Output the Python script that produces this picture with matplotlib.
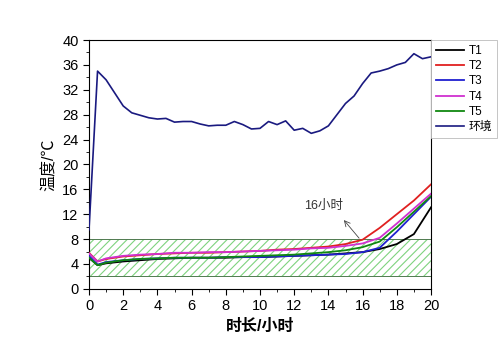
import numpy as np
import matplotlib
matplotlib.use("Agg")
import matplotlib.pyplot as plt
from matplotlib.ticker import MultipleLocator

plt.rcParams['font.family'] = ['Liberation Sans', 'Noto Sans CJK SC']
plt.rcParams['hatch.linewidth'] = 0.8

# time (h) for the sensor curves
hours = [0, 0.5, 1, 2, 3, 4, 5, 6, 7, 8, 9, 10, 11, 12, 13, 14, 15, 16, 17, 18, 19, 20]
t1 = [5.0, 3.8, 4.1, 4.4, 4.6, 4.8, 4.9, 5.0, 5.0, 5.0, 5.1, 5.1, 5.2, 5.3, 5.4, 5.5, 5.7, 5.9, 6.4, 7.2, 8.8, 13.1]
t2 = [5.8, 4.4, 4.8, 5.2, 5.4, 5.6, 5.7, 5.8, 5.8, 5.9, 6.0, 6.1, 6.3, 6.4, 6.6, 6.8, 7.2, 7.9, 9.8, 12.0, 14.2, 16.8]
t3 = [5.3, 3.9, 4.3, 4.6, 4.8, 4.9, 5.0, 5.0, 5.0, 5.1, 5.1, 5.1, 5.2, 5.3, 5.4, 5.5, 5.6, 5.9, 6.6, 9.2, 12.0, 14.8]
t4 = [5.7, 4.4, 4.9, 5.3, 5.5, 5.6, 5.8, 5.8, 5.9, 5.9, 6.0, 6.1, 6.2, 6.3, 6.5, 6.6, 6.9, 7.3, 8.2, 10.5, 12.9, 15.3]
t5 = [5.0, 3.8, 4.2, 4.6, 4.8, 4.9, 5.0, 5.0, 5.0, 5.1, 5.2, 5.3, 5.4, 5.5, 5.7, 5.9, 6.2, 6.7, 7.6, 9.9, 12.4, 14.9]

# ambient temperature, every half hour
env_hours = [i * 0.5 for i in range(41)]
env = [9.5, 35.0, 33.6, 31.5, 29.4, 28.3, 27.9, 27.5, 27.3, 27.4, 26.8, 26.9, 26.9, 26.5, 26.2, 26.3,
       26.3, 26.9, 26.4, 25.7, 25.8, 26.9, 26.4, 27.0, 25.5, 25.8, 25.0, 25.4, 26.2, 28.0,
       29.8, 31.0, 33.0, 34.7, 35.0, 35.4, 36.0, 36.4, 37.8, 37.0, 37.3]

labels = ['T1', 'T2', 'T3', 'T4', 'T5', '环境']
colors = ['black', '#e02020', '#2020d0', '#d030d0', '#108810', '#1a1a80']

fig = plt.figure(figsize=(5, 3.48), dpi=100)
ax = fig.add_axes([0.178, 0.170, 0.684, 0.715])

# safe zone 2-8 degC: light hatch + darker outline
ax.fill_between([0, 20], 2, 8, facecolor='white', edgecolor='#7fd37f', hatch='////', linewidth=0, zorder=1)
ax.fill_between([0, 20], 2, 8, facecolor='none', edgecolor='#4f7a4f', linewidth=0.7, zorder=1)

for y, lab, c in zip([t1, t2, t3, t4, t5], labels[:5], colors[:5]):
    ax.plot(hours, y, color=c, lw=1.3, label=lab, zorder=3)
ax.plot(env_hours, env, color=colors[5], lw=1.2, label=labels[5], zorder=3)

ax.annotate('', xy=(14.8, 11.4), xytext=(15.9, 7.8),
            arrowprops=dict(arrowstyle='->', color='#444444', lw=0.6))
ax.text(13.7, 13.4, '16小时', fontsize=9, ha='center', va='center', color='#333333')

ax.set_xlim(0, 20)
ax.set_ylim(0, 40)
ax.xaxis.set_major_locator(MultipleLocator(2))
ax.xaxis.set_minor_locator(MultipleLocator(1))
ax.yaxis.set_major_locator(MultipleLocator(4))
ax.yaxis.set_minor_locator(MultipleLocator(2))
ax.tick_params(which='major', direction='out', length=4, labelsize=10.5, top=False, right=False)
ax.tick_params(which='minor', direction='out', length=2, top=False, right=False)

ax.set_xlabel('时长/小时', fontsize=11.5, fontweight='bold')
ax.set_ylabel('温度/℃', fontsize=11.5)

leg = ax.legend(loc='upper left', bbox_to_anchor=(1.0, 1.0), borderaxespad=0, fontsize=8.5,
                fancybox=False, framealpha=1, handlelength=2.4, labelspacing=0.28,
                handletextpad=0.4, borderpad=0.4)
leg.get_frame().set_edgecolor('#bbbbbb')
leg.get_frame().set_linewidth(0.6)

fig.savefig('out.png', dpi=100)
